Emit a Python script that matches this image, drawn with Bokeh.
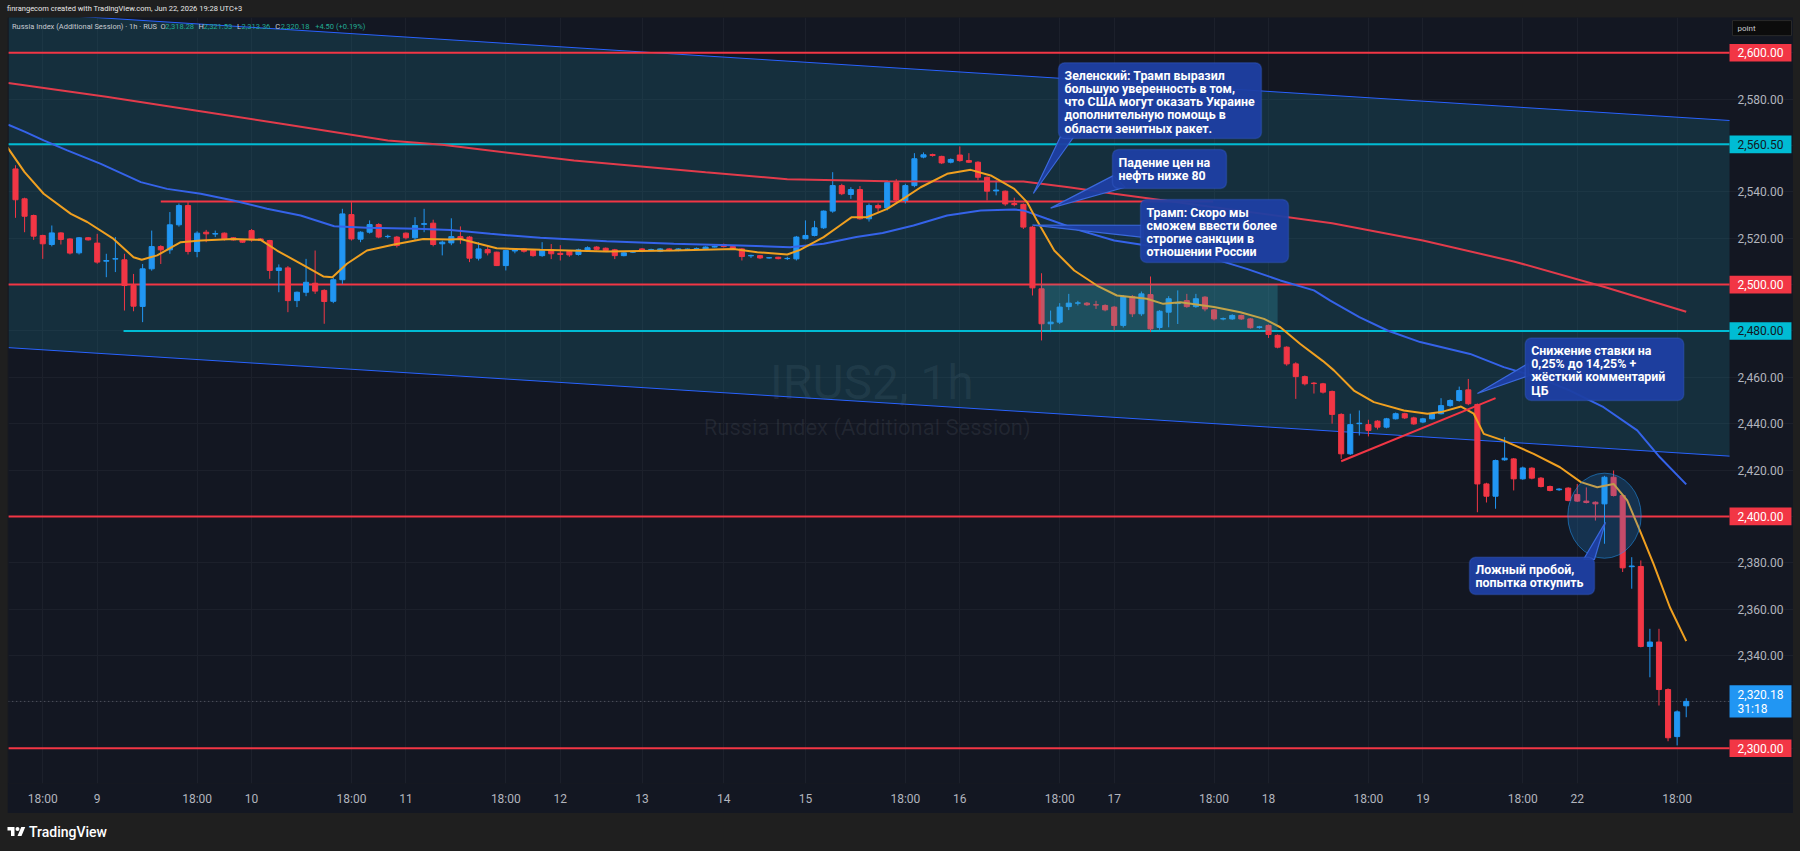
import numpy as np
from bokeh.plotting import figure
from bokeh.models import (Range1d, LinearAxis, FixedTicker, NumeralTickFormatter, Label,
                          BoxAnnotation, Div, ColumnDataSource, Grid, Spacer)
from bokeh.layouts import column, row
from bokeh.embed import file_html
from bokeh.resources import INLINE
from bokeh.core.properties import value

# ---------------- data ----------------
opens = [2549.9, 2537.0, 2529.8, 2521.2, 2517.3, 2522.3, 2519.7, 2513.7, 2520.2, 2517.9,
         2510.1, 2511.0, 2510.7, 2499.6, 2490.6, 2506.8, 2516.4, 2515.0, 2525.8, 2534.1,
         2514.3, 2522.6, 2521.8, 2522.2, 2520.2, 2519.3, 2523.3, 2519.7, 2519.0, 2506.1,
         2507.2, 2493.1, 2496.7, 2500.6, 2497.5, 2492.8, 2502.1, 2530.2, 2519.6, 2522.6,
         2525.9, 2520.7, 2520.5, 2522.2, 2520.2, 2526.0, 2526.5, 2517.6, 2518.0, 2520.7,
         2520.5, 2511.4, 2515.1, 2514.0, 2508.2, 2514.5, 2515.4, 2514.7, 2512.5, 2515.0,
         2513.5, 2514.4, 2513.0, 2514.7, 2516.2, 2515.7, 2515.0, 2512.5, 2514.0, 2515.4,
         2515.0, 2514.4, 2515.4, 2514.7, 2515.2, 2515.5, 2515.2, 2516.2, 2517.3, 2516.4,
         2515.4, 2512.4, 2512.5, 2511.5, 2511.8, 2511.2, 2511.1, 2519.8, 2521.2, 2524.5,
         2531.7, 2542.7, 2538.9, 2541.0, 2528.4, 2534.1, 2533.1, 2544.0, 2536.3, 2542.7,
         2555.0, 2556.1, 2555.3, 2552.8, 2555.9, 2553.5, 2552.8, 2546.3, 2540.4, 2540.3,
         2535.0, 2534.6, 2524.8, 2498.2, 2483.1, 2483.8, 2490.5, 2492.0, 2492.0, 2491.3,
         2491.0, 2490.3, 2482.4, 2494.9, 2487.4, 2495.7, 2481.5, 2488.1, 2491.8, 2493.1,
         2490.5, 2494.6, 2489.1, 2485.2, 2485.2, 2486.7, 2485.2, 2481.5, 2482.4, 2478.1,
         2473.0, 2465.8, 2460.3, 2457.5, 2457.2, 2453.9, 2444.0, 2427.0, 2440.0, 2439.6,
         2441.1, 2438.5, 2442.1, 2444.3, 2442.5, 2440.7, 2442.1, 2444.3, 2447.8, 2450.0,
         2454.6, 2448.3, 2414.0, 2408.7, 2424.4, 2424.8, 2416.2, 2420.8, 2416.5, 2412.9,
         2411.5, 2412.2, 2409.4, 2406.6, 2406.1, 2405.4, 2416.9, 2409.0, 2378.3, 2378.4,
         2343.9, 2345.8, 2325.3, 2305.0, 2318.28]
highs = [2551.5, 2537.5, 2530.2, 2521.5, 2525.5, 2522.6, 2520.0, 2520.5, 2520.5, 2521.9,
         2513.3, 2520.5, 2513.3, 2504.6, 2508.9, 2523.3, 2517.0, 2531.3, 2535.0, 2535.6,
         2523.0, 2523.6, 2523.3, 2522.5, 2520.5, 2519.5, 2524.0, 2520.0, 2519.3, 2508.7,
         2508.0, 2497.0, 2511.1, 2514.7, 2498.0, 2503.0, 2532.7, 2535.6, 2523.0, 2527.7,
         2526.5, 2521.5, 2521.0, 2522.5, 2529.1, 2532.7, 2528.0, 2519.0, 2528.6, 2525.1,
         2521.0, 2518.3, 2516.2, 2514.2, 2515.0, 2515.5, 2515.8, 2515.0, 2518.3, 2517.5,
         2517.0, 2514.8, 2515.5, 2516.5, 2516.6, 2516.0, 2515.4, 2514.0, 2514.6, 2515.8,
         2515.5, 2515.8, 2515.7, 2515.7, 2515.6, 2516.0, 2516.5, 2516.9, 2517.7, 2516.7,
         2515.8, 2512.9, 2512.8, 2511.9, 2512.0, 2512.0, 2521.0, 2527.7, 2527.5, 2532.0,
         2548.5, 2543.5, 2542.0, 2542.5, 2535.0, 2535.0, 2545.0, 2545.5, 2543.5, 2556.7,
         2557.0, 2556.5, 2555.6, 2554.4, 2559.6, 2556.7, 2553.2, 2546.6, 2544.9, 2540.6,
         2537.5, 2535.0, 2525.3, 2504.9, 2488.8, 2492.0, 2496.0, 2493.0, 2492.5, 2493.0,
         2491.5, 2490.8, 2495.5, 2495.5, 2497.0, 2503.5, 2489.0, 2495.0, 2497.5, 2496.0,
         2496.0, 2495.0, 2489.5, 2485.8, 2487.2, 2487.0, 2485.6, 2482.2, 2482.8, 2478.5,
         2473.4, 2466.5, 2460.8, 2458.0, 2457.6, 2454.3, 2444.5, 2444.3, 2445.7, 2441.7,
         2441.5, 2442.5, 2444.8, 2444.7, 2443.0, 2442.5, 2444.8, 2451.0, 2450.5, 2456.0,
         2459.3, 2448.7, 2414.5, 2424.5, 2434.2, 2425.2, 2421.5, 2421.2, 2417.0, 2413.3,
         2412.2, 2412.6, 2414.0, 2412.5, 2406.5, 2417.5, 2419.8, 2409.4, 2382.4, 2381.0,
         2351.5, 2351.5, 2325.8, 2316.3, 2321.53]
lows = [2528.8, 2522.6, 2519.3, 2511.1, 2516.5, 2517.3, 2513.0, 2513.0, 2519.0, 2509.0,
        2503.2, 2505.4, 2488.8, 2488.5, 2483.8, 2506.0, 2508.9, 2513.3, 2525.0, 2513.0,
        2511.8, 2518.3, 2520.5, 2519.0, 2519.0, 2518.0, 2518.5, 2518.8, 2502.5, 2496.7,
        2488.1, 2490.3, 2495.0, 2496.0, 2483.1, 2492.0, 2500.3, 2519.0, 2518.3, 2522.0,
        2520.0, 2520.0, 2516.0, 2519.5, 2519.0, 2522.6, 2516.5, 2512.6, 2517.0, 2517.6,
        2509.7, 2510.4, 2512.6, 2508.0, 2506.1, 2513.5, 2513.8, 2512.0, 2512.0, 2511.0,
        2510.4, 2512.0, 2512.5, 2514.3, 2514.8, 2514.3, 2511.0, 2512.2, 2513.6, 2514.0,
        2514.6, 2514.0, 2514.4, 2514.4, 2514.8, 2515.1, 2515.0, 2516.0, 2516.0, 2515.0,
        2510.4, 2511.5, 2511.0, 2511.2, 2510.9, 2510.6, 2510.4, 2519.5, 2520.8, 2524.0,
        2531.0, 2538.6, 2537.0, 2528.0, 2527.2, 2531.2, 2532.0, 2535.5, 2535.0, 2542.0,
        2554.5, 2555.2, 2552.0, 2552.3, 2553.0, 2552.5, 2545.0, 2536.3, 2538.5, 2534.0,
        2533.8, 2524.0, 2495.3, 2475.9, 2479.5, 2483.0, 2489.0, 2491.0, 2490.8, 2489.5,
        2488.5, 2480.2, 2481.5, 2486.0, 2486.5, 2479.5, 2480.5, 2481.6, 2483.0, 2490.0,
        2490.0, 2488.5, 2484.5, 2484.6, 2484.8, 2484.8, 2481.0, 2481.0, 2477.0, 2472.5,
        2465.0, 2450.7, 2456.5, 2453.0, 2453.0, 2440.0, 2424.8, 2426.5, 2434.9, 2434.5,
        2437.5, 2438.0, 2441.8, 2442.0, 2439.5, 2440.2, 2441.8, 2444.0, 2447.3, 2449.5,
        2448.0, 2401.8, 2406.0, 2403.3, 2424.0, 2411.2, 2415.8, 2416.0, 2412.5, 2410.8,
        2411.0, 2406.5, 2406.2, 2405.6, 2398.2, 2388.2, 2408.6, 2376.0, 2368.8, 2343.5,
        2330.6, 2318.4, 2303.0, 2301.2, 2313.36]
closes = [2536.6, 2529.5, 2520.9, 2517.6, 2522.3, 2519.5, 2513.6, 2520.2, 2519.3, 2509.7,
          2510.4, 2511.2, 2499.6, 2490.7, 2506.8, 2516.4, 2515.0, 2525.8, 2534.1, 2514.3,
          2522.2, 2521.9, 2522.0, 2519.7, 2519.3, 2518.3, 2519.3, 2519.0, 2506.1, 2507.2,
          2493.1, 2496.7, 2501.0, 2497.2, 2492.7, 2502.1, 2530.5, 2519.7, 2522.6, 2525.9,
          2520.5, 2520.8, 2516.9, 2520.2, 2525.5, 2526.3, 2517.3, 2518.3, 2520.7, 2519.6,
          2511.4, 2515.4, 2513.7, 2508.2, 2514.7, 2515.0, 2514.4, 2512.5, 2515.0, 2513.3,
          2513.0, 2512.8, 2515.0, 2515.9, 2515.2, 2514.7, 2512.5, 2513.7, 2514.2, 2514.4,
          2515.1, 2515.4, 2514.7, 2515.4, 2515.3, 2515.6, 2516.2, 2516.5, 2516.4, 2515.4,
          2512.1, 2512.6, 2511.5, 2511.6, 2511.2, 2511.3, 2520.5, 2521.2, 2524.5, 2531.7,
          2542.7, 2539.2, 2541.0, 2528.4, 2534.1, 2533.1, 2544.0, 2536.5, 2542.7, 2554.3,
          2556.0, 2555.7, 2552.5, 2554.0, 2553.5, 2552.8, 2546.3, 2540.3, 2540.8, 2534.8,
          2534.5, 2524.8, 2498.6, 2483.1, 2483.8, 2490.3, 2492.0, 2492.1, 2491.3, 2491.2,
          2489.1, 2482.4, 2494.9, 2487.4, 2496.0, 2480.9, 2488.5, 2493.9, 2492.1, 2490.5,
          2493.9, 2489.5, 2485.2, 2485.3, 2486.7, 2485.2, 2481.4, 2481.8, 2478.5, 2473.0,
          2465.8, 2460.3, 2457.2, 2457.3, 2453.6, 2444.0, 2427.0, 2439.6, 2440.2, 2437.1,
          2438.5, 2442.1, 2444.3, 2442.5, 2439.9, 2442.1, 2444.3, 2447.8, 2450.0, 2454.3,
          2448.6, 2414.0, 2408.7, 2424.1, 2425.1, 2416.2, 2420.9, 2416.5, 2412.9, 2411.2,
          2411.8, 2406.9, 2406.6, 2406.0, 2405.4, 2416.9, 2409.0, 2377.8, 2378.6, 2343.9,
          2345.8, 2325.3, 2304.5, 2315.68, 2320.18]

# moving averages, sampled along the drawn lines (bar index, price)
ema_fast_x = [-0.9, 1.0, 3.1, 6.1, 7.9, 10.8, 13.0, 13.9, 15.6, 18.2, 20.4, 24.0, 27.0, 28.8,
              31.4, 33.9, 34.9, 36.5, 38.7, 41.7, 44.9, 47.9, 49.0, 53.0, 57.8, 65.1, 72.5,
              79.1, 81.7, 85.0, 86.4, 89.0, 90.8, 92.1, 93.8, 96.0, 97.5, 99.7, 102.6, 105.2,
              107.4, 110.0, 111.4, 112.5, 114.4, 116.6, 119.1, 121.3, 124.6, 126.4, 128.3,
              132.0, 134.9, 137.5, 139.3, 141.5, 144.0, 145.2, 147.4, 149.6, 152.9, 155.5,
              157.0, 159.2, 160.6, 161.7, 163.9, 167.2, 170.1, 172.4, 174.2, 176.0, 177.5,
              178.9, 180.4, 182.2, 184.0]
ema_fast_y = [2559.3, 2548.5, 2539.2, 2530.5, 2527.0, 2519.7, 2511.8, 2510.7, 2512.6, 2518.3,
              2519.0, 2519.7, 2519.3, 2514.7, 2509.0, 2503.5, 2503.2, 2509.0, 2514.7, 2517.3,
              2519.7, 2519.5, 2519.7, 2515.7, 2515.0, 2514.3, 2514.7, 2515.4, 2514.0, 2513.0,
              2515.0, 2520.5, 2525.5, 2529.1, 2529.1, 2532.7, 2536.3, 2542.0, 2547.8, 2549.5,
              2547.1, 2541.3, 2535.6, 2527.6, 2514.7, 2506.1, 2499.6, 2495.3, 2493.9, 2491.7,
              2492.4, 2490.3, 2488.1, 2485.2, 2481.6, 2474.4, 2467.0, 2463.0, 2454.3, 2449.3,
              2445.7, 2444.3, 2445.0, 2447.4, 2444.3, 2435.6, 2432.7, 2427.0, 2421.2, 2414.8,
              2412.6, 2414.0, 2406.9, 2393.9, 2379.5, 2360.8, 2346.2]
sma_mid_x = [-0.8, 1.0, 3.1, 5.7, 9.4, 13.8, 16.7, 20.4, 24.0, 27.7, 31.4, 35.1, 38.7, 44.2,
             47.9, 52.3, 57.8, 65.1, 72.5, 79.8, 85.3, 89.0, 92.6, 95.5, 98.9, 102.6, 106.3,
             110.0, 111.0, 113.6, 117.3, 121.0, 124.6, 128.3, 132.0, 135.6, 139.3, 143.0,
             144.8, 148.0, 151.1, 154.7, 160.2, 163.9, 167.6, 171.2, 174.9, 178.6, 181.1, 184.0]
sma_mid_y = [2569.0, 2566.0, 2562.2, 2557.9, 2552.1, 2544.2, 2541.3, 2539.2, 2536.3, 2532.7,
             2529.8, 2525.2, 2524.5, 2524.1, 2523.6, 2521.9, 2520.2, 2518.7, 2517.6, 2516.9,
             2516.1, 2517.6, 2520.5, 2522.3, 2525.5, 2529.8, 2532.0, 2532.4, 2532.0, 2528.4,
             2523.3, 2519.0, 2516.9, 2514.0, 2511.1, 2506.8, 2501.8, 2497.5, 2493.1, 2486.0,
             2480.2, 2475.2, 2470.1, 2464.4, 2460.1, 2454.3, 2447.1, 2437.1, 2425.5, 2413.8]
sma_slow_x = [-0.8, 10.0, 20.0, 30.0, 41.0, 47.0, 61.5, 76.0, 85.0, 96.0, 111.0, 116.0,
              121.0, 132.0, 145.0, 155.0, 165.0, 175.0, 184.0]
sma_slow_y = [2587.0, 2581.0, 2575.0, 2569.0, 2562.2, 2560.3, 2553.5, 2548.5, 2545.5,
              2544.6, 2544.5, 2542.0, 2539.2, 2533.4, 2526.5, 2519.0, 2510.0, 2499.0, 2488.3]

# time axis (bar index of each label)
time_tick_idx = [3, 9, 20, 26, 37, 43, 54, 60, 69, 78, 87, 98, 104, 115, 121, 132, 138,
                 149, 155, 166, 172, 183]
time_tick_labels = ["18:00", "9", "18:00", "10", "18:00", "11", "18:00", "12", "13", "14",
                    "15", "18:00", "16", "18:00", "17", "18:00", "18", "18:00", "19",
                    "18:00", "22", "18:00"]
price_ticks = [2580, 2540, 2520, 2460, 2440, 2420, 2380, 2360, 2340]
grid_prices = list(range(2300, 2620, 20))

# drawings
PANE_END = 188.77          # bar index at the right edge of the chart pane
level_prices = [2600.0, 2560.5, 2535.8, 2500.0, 2480.0, 2400.0, 2300.0]
level_kind = ["red", "cyan", "red", "red", "cyan", "red", "red"]
level_from = [-0.8, -0.8, 16.0, -0.8, 11.9, -0.8, -0.8]
level_to = [PANE_END, PANE_END, 131.9, PANE_END, PANE_END, PANE_END, PANE_END]
tag_prices = [2600.0, 2560.5, 2500.0, 2480.0, 2400.0, 2300.0]
tag_texts = ["2,600.00", "2,560.50", "2,500.00", "2,480.00", "2,400.00", "2,300.00"]
tag_kind = ["red", "cyan", "red", "cyan", "red", "red"]
channel_x = [-0.771, PANE_END]
channel_top = [2617.6, 2570.8]
channel_bottom = [2472.8, 2426.0]
trend_x = [146.0, 163.0]
trend_y = [2423.8, 2451.0]
last_price = 2320.18
last_countdown = "31:18"

notes = ["Зеленский: Трамп выразил\nбольшую уверенность в том,\nчто США могут оказать Украине\nдополнительную помощь в\nобласти зенитных ракет.",
         "Падение цен на\nнефть ниже 80",
         "Трамп: Скоро мы\nсможем ввести более\nстрогие санкции в\nотношении России",
         "Снижение ставки на\n0,25% до 14,25% +\nжёсткий комментарий\nЦБ",
         "Ложный пробой,\nпопытка откупить"]
note_left = [114.87, 120.81, 123.9, 166.27, 160.13]
note_right = [137.22, 133.37, 140.2, 183.73, 173.9]
note_top = [2595.7, 2558.3, 2536.7, 2477.0, 2382.4]
note_bottom = [2563.0, 2541.5, 2509.5, 2450.0, 2366.3]
tail_xs = [[115.1, 116.6, 112.1], [120.9, 122.2, 114.0], [124.2, 124.2, 112.0],
           [166.6, 166.6, 161.0], [172.7, 173.9, 175.1]]
tail_ys = [[2564.0, 2564.0, 2539.3], [2547.0, 2542.0, 2533.0], [2525.6, 2520.4, 2525.7],
           [2466.0, 2460.6, 2453.0], [2381.5, 2381.5, 2397.4]]

# ---------------- styling ----------------
BG = "#131722"
OUTER = "#1f1f1f"
RED = "#f23645"
BLUE = "#2196f3"
CYAN = "#00bcd4"
FONT = "Roboto"
KIND = {"red": RED, "cyan": CYAN}
PXPP = 2.318               # pixels per price point (for tag box half-height)

p = figure(width=1786, height=796, x_range=Range1d(-0.771, 195.815),
           y_range=Range1d(2284.77, 2615.23), output_backend="svg", toolbar_location=None,
           background_fill_color=BG, border_fill_color=BG, min_border_left=1,
           min_border_right=0, min_border_top=0, min_border_bottom=30,
           x_axis_location=None, y_axis_location=None)
p.outline_line_color = None
p.xgrid.visible = False
p.ygrid.visible = False

p.add_layout(Grid(dimension=0, ticker=FixedTicker(ticks=time_tick_idx),
                  grid_line_color="#1c202b", grid_line_width=1))
p.add_layout(Grid(dimension=1, ticker=FixedTicker(ticks=grid_prices),
                  grid_line_color="#1c202b", grid_line_width=1))

# price scale: labels are pulled back over the price-scale strip at the right
yax = LinearAxis(ticker=FixedTicker(ticks=price_ticks),
                 formatter=NumeralTickFormatter(format="0,0.00"))
yax.axis_line_color = None
yax.major_tick_line_color = None
yax.minor_tick_line_color = None
yax.major_tick_out = 0
yax.major_tick_in = 0
yax.major_label_standoff = -56
yax.major_label_text_color = "#b2b5be"
yax.major_label_text_font = FONT
yax.major_label_text_font_size = "12px"
p.add_layout(yax, "right")

xax = LinearAxis(ticker=FixedTicker(ticks=time_tick_idx),
                 major_label_overrides={i: t for i, t in zip(time_tick_idx, time_tick_labels)})
xax.axis_line_color = None
xax.major_tick_line_color = None
xax.minor_tick_line_color = None
xax.major_tick_out = 0
xax.major_label_standoff = 8
xax.major_label_text_color = "#b2b5be"
xax.major_label_text_font = FONT
xax.major_label_text_font_size = "12px"
p.add_layout(xax, "below")

# watermark
p.text(x=[94.3], y=[2457.9], text=["IRUS2, 1h"], text_font=value(FONT),
       text_font_size="48px", text_color="#8a8f9c", text_alpha=0.13,
       text_align="center", text_baseline="middle")
p.text(x=[93.8], y=[2438.4], text=["Russia Index (Additional Session)"], text_font=value(FONT),
       text_font_size="22px", text_color="#8a8f9c", text_alpha=0.13,
       text_align="center", text_baseline="middle")

# parallel channel
p.varea(x=channel_x, y1=channel_bottom, y2=channel_top, fill_color="#1d6f86", fill_alpha=0.28)
p.line(channel_x, channel_top, line_color="#2962ff", line_width=1)
p.line(channel_x, channel_bottom, line_color="#2962ff", line_width=1)

# horizontal levels
p.segment(x0=level_from, y0=level_prices, x1=level_to, y1=level_prices,
          line_color=[KIND[k] for k in level_kind], line_width=2)
p.line([-0.8, PANE_END], [last_price, last_price], line_color="#787b86", line_alpha=0.7,
       line_dash="1 3", line_width=1)

# candles
o = np.array(opens); h = np.array(highs); l = np.array(lows); c = np.array(closes)
idx = np.arange(len(c))
cols = np.where(c >= o, BLUE, RED)
src = ColumnDataSource(dict(x=idx, hi=h, lo=l, top=np.maximum(o, c), bot=np.minimum(o, c),
                            col=cols))
p.segment(x0="x", y0="hi", x1="x", y1="lo", source=src, line_color="col", line_width=1)
p.vbar(x="x", width=0.56, top="top", bottom="bot", source=src, fill_color="col",
       line_color="col", line_width=1)

# moving averages
p.line(sma_slow_x, sma_slow_y, line_color="#e23b4b", line_width=2)
p.line(sma_mid_x, sma_mid_y, line_color="#3563e9", line_width=2)
p.line(ema_fast_x, ema_fast_y, line_color="#f0a020", line_width=2)

# trend line, rectangle, ellipse
p.line(trend_x, trend_y, line_color=RED, line_width=2)
p.add_layout(BoxAnnotation(left=112.9, right=139.0, top=2500.0, bottom=2480.0,
                           fill_color="#3bb0c4", fill_alpha=0.25, line_color=None))
p.ellipse(x=[175.0], y=[2400.3], width=8.08, height=36.7, fill_color="#2196f3",
          fill_alpha=0.22, line_color="#2196f3", line_alpha=0.55, line_width=1)

# callouts
NOTE_FILL = "#1d3fa3"
NOTE_LINE = "#3a68dc"
p.patches(tail_xs, tail_ys, fill_color=NOTE_FILL, fill_alpha=0.95, line_color=NOTE_LINE,
          line_width=1.2)
for t, lft, rgt, top, bot in zip(notes, note_left, note_right, note_top, note_bottom):
    p.add_layout(BoxAnnotation(left=lft, right=rgt, top=top, bottom=bot,
                               fill_color=NOTE_FILL, fill_alpha=0.95, line_color=NOTE_LINE,
                               line_width=1.5, border_radius=6))
    p.add_layout(Label(x=lft + 0.66, y=top - 2.2, text=t, text_align="left",
                       text_baseline="top", text_color="#ffffff", text_font=FONT,
                       text_font_style="bold", text_font_size="12.4px",
                       text_line_height=0.88))

# legend line inside the pane
legend_parts = [("Russia Index (Additional Session) · 1h · RUS", -0.39, "#c8cad1"),
                ("O", 15.97, "#c8cad1"), ("2,318.28", 16.5, "#22ab94"),
                ("H", 20.15, "#c8cad1"), ("2,321.53", 20.7, "#22ab94"),
                ("L", 24.4, "#c8cad1"), ("2,313.36", 24.9, "#22ab94"),
                ("C", 28.6, "#c8cad1"), ("2,320.18", 29.2, "#22ab94"),
                ("+4.50 (+0.19%)", 33.0, "#22ab94")]
for txt, lx, colr in legend_parts:
    p.add_layout(Label(x=lx, y=2611.3, text=txt, text_align="left", text_baseline="middle",
                       text_color=colr, text_font=FONT, text_font_size="7.5px"))

# price tags on the price scale
TAG_L, TAG_R, TAG_TX = PANE_END, 195.59, 189.65
hh = 8.8 / PXPP
p.quad(left=TAG_L, right=TAG_R, top=[v + hh for v in tag_prices],
       bottom=[v - hh for v in tag_prices], fill_color=[KIND[k] for k in tag_kind],
       line_color=None)
p.text(x=TAG_TX, y=tag_prices, text=tag_texts, text_font=value(FONT), text_font_size="12px",
       text_color=["#ffffff" if k == "red" else "#131722" for k in tag_kind],
       text_align="left", text_baseline="middle")
p.quad(left=[TAG_L], right=[TAG_R], top=[last_price + 16.2 / PXPP],
       bottom=[last_price - 16.2 / PXPP], fill_color="#2196f3", line_color=None)
p.text(x=[TAG_TX, TAG_TX], y=[last_price + 7.2 / PXPP, last_price - 7.2 / PXPP],
       text=["2,320.18", last_countdown], text_font=value(FONT), text_font_size="12px",
       text_color="#ffffff", text_align="left", text_baseline="middle")
p.quad(left=[189.1], right=[TAG_R], top=[2613.9], bottom=[2607.4], fill_color="#0c0c0c",
       line_color="#2a2a2a")
p.text(x=[TAG_TX], y=[2610.6], text=["point"], text_font=value(FONT), text_font_size="8px",
       text_color="#c8cad1", text_align="left", text_baseline="middle")

header = Div(text="finrangecom created with TradingView.com, Jun 22, 2026 19:28 UTC+3",
             width=1800, height=17, margin=0,
             styles={"background-color": OUTER, "color": "#e8e8e8", "font-family": FONT,
                     "font-size": "7.5px", "line-height": "17px", "white-space": "nowrap",
                     "padding-left": "7px", "box-sizing": "border-box"})
logo_html = ('<div style="display:flex;align-items:center;height:22px;margin-top:8px;'
             'padding-left:7px;">'
             '<svg width="19" height="14" viewBox="0 0 36 28"><path d="M14 22H7V11H0V4h14v18z'
             'M28 22h-8l7.5-18h8L28 22z" fill="#ffffff"/><circle cx="20" cy="8" r="4" '
             'fill="#ffffff"/></svg><span style="font-family:Roboto;font-size:14px;'
             'font-weight:500;color:#ffffff;margin-left:3px;">TradingView</span></div>')
footer = Div(text=logo_html, width=1800, height=37, margin=0,
             styles={"background-color": OUTER})

middle = row(Spacer(width=7, height=796, margin=0), p, spacing=0)
layout = column(header, middle, footer, spacing=0)
html = file_html(layout, INLINE, "IRUS2, 1h")
html = html.replace("</head>", "<style>html,body{background-color:#1f1f1f;}</style></head>", 1)
open("out.html", "w").write(html)
